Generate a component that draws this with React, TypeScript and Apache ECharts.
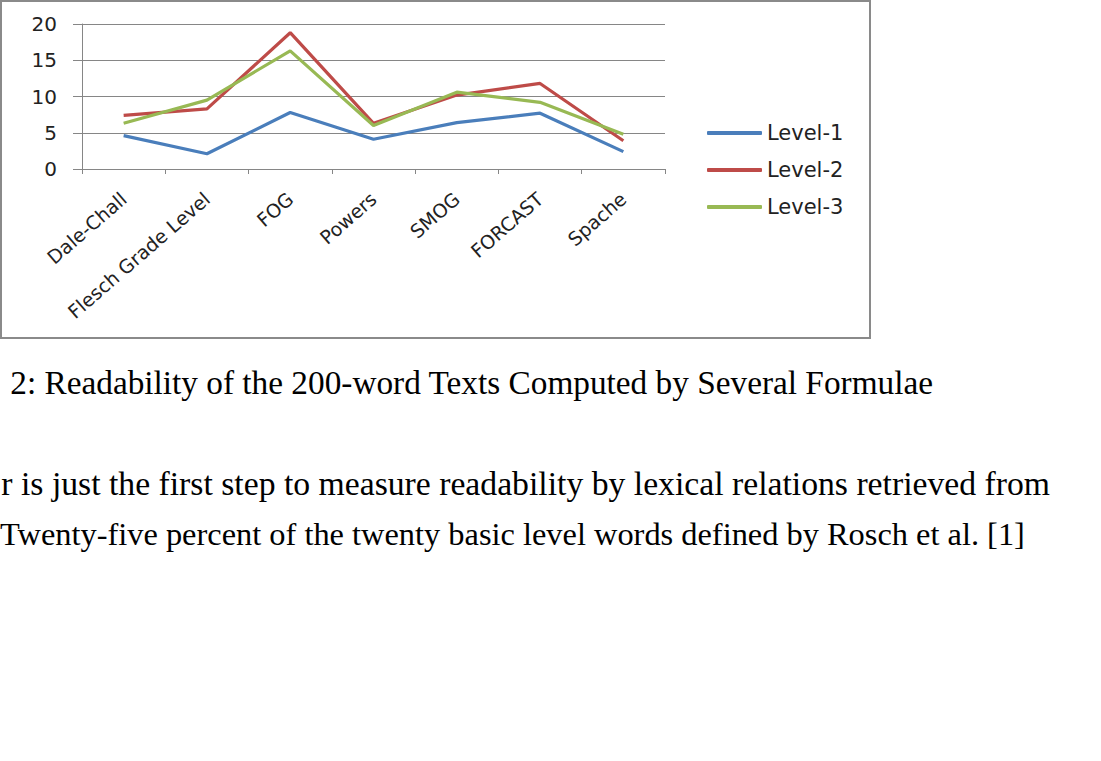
import React, { useEffect, useRef } from "react";
import * as echarts from "echarts";

const categories = ["Dale-Chall", "Flesch Grade Level", "FOG", "Powers", "SMOG", "FORCAST", "Spache"];
const level1 = [4.6, 2.1, 7.8, 4.1, 6.4, 7.7, 2.4];
const level2 = [7.4, 8.3, 18.8, 6.3, 10.2, 11.8, 3.9];
const level3 = [6.3, 9.5, 16.3, 6.0, 10.6, 9.2, 4.8];
const seriesNames = ["Level-1", "Level-2", "Level-3"];
const seriesColors = ["#4A7EBB", "#BE4B48", "#98B954"];
const yMin = 0;
const yMax = 20;
const yInterval = 5;

const captionText = "2: Readability of the 200-word Texts Computed by Several Formulae";
const bodyLine1 = "r is just the first step to measure readability by lexical relations retrieved from";
const bodyLine2 = "Twenty-five percent of the twenty basic level words defined by Rosch et al. [1]";

const chartFont = "DejaVu Sans";
const serifFont = "Liberation Serif";

export default function App() {
  const ref = useRef<HTMLDivElement>(null);
  useEffect(() => {
    if (!ref.current) return;
    const chart = echarts.init(ref.current, undefined, { renderer: "svg" });
    const data = [level1, level2, level3];
    chart.setOption({
      animation: false,
      backgroundColor: "#ffffff",
      grid: { left: 82, top: 24, width: 583, height: 145, containLabel: false },
      legend: {
        orient: "vertical",
        left: 707,
        top: 122,
        padding: 0,
        itemWidth: 55,
        itemHeight: 4,
        itemGap: 15,
        icon: "roundRect",
        data: seriesNames,
        textStyle: { fontFamily: chartFont, fontSize: 21, lineHeight: 22, color: "#222" },
      },
      xAxis: {
        type: "category",
        data: categories,
        boundaryGap: true,
        axisLine: { show: true, lineStyle: { color: "#868686", width: 1 } },
        axisTick: { show: true, length: 5, alignWithLabel: false, lineStyle: { color: "#868686" } },
        axisLabel: {
          interval: 0,
          rotate: 41,
          margin: 27,
          fontFamily: chartFont,
          fontSize: 19,
          color: "#222",
        },
        splitLine: { show: false },
      },
      yAxis: {
        type: "value",
        min: yMin,
        max: yMax,
        interval: yInterval,
        axisLine: { show: true, lineStyle: { color: "#868686", width: 1 } },
        axisTick: { show: true, length: 9, lineStyle: { color: "#868686" } },
        axisLabel: { margin: 25, fontFamily: chartFont, fontSize: 20, color: "#222" },
        splitLine: { show: true, lineStyle: { color: "#868686", width: 1 } },
      },
      series: seriesNames.map((name, i) => ({
        name,
        type: "line",
        data: data[i],
        symbol: "none",
        showSymbol: false,
        color: seriesColors[i],
        lineStyle: { color: seriesColors[i], width: 3.2 },
      })),
      graphic: [
        {
          type: "rect",
          shape: { x: 1, y: 1, width: 869, height: 337 },
          style: { fill: "none", stroke: "#8a8a8a", lineWidth: 2 },
          silent: true,
        },
        {
          type: "text",
          x: 933,
          y: 382,
          style: {
            text: captionText,
            font: `33.3px "${serifFont}"`,
            fill: "#000",
            align: "right",
            verticalAlign: "middle",
          },
        },
        {
          type: "text",
          x: 1050,
          y: 483,
          style: {
            text: bodyLine1,
            font: `33.7px "${serifFont}"`,
            fill: "#000",
            align: "right",
            verticalAlign: "middle",
          },
        },
        {
          type: "text",
          x: 0,
          y: 534,
          style: {
            text: bodyLine2,
            font: `32.4px "${serifFont}"`,
            fill: "#000",
            align: "left",
            verticalAlign: "middle",
          },
        },
      ],
    });
    return () => chart.dispose();
  }, []);
  return (
    <div
      ref={ref}
      style={{ position: "absolute", left: 0, top: 0, width: 1101, height: 761, background: "#fff" }}
    />
  );
}
